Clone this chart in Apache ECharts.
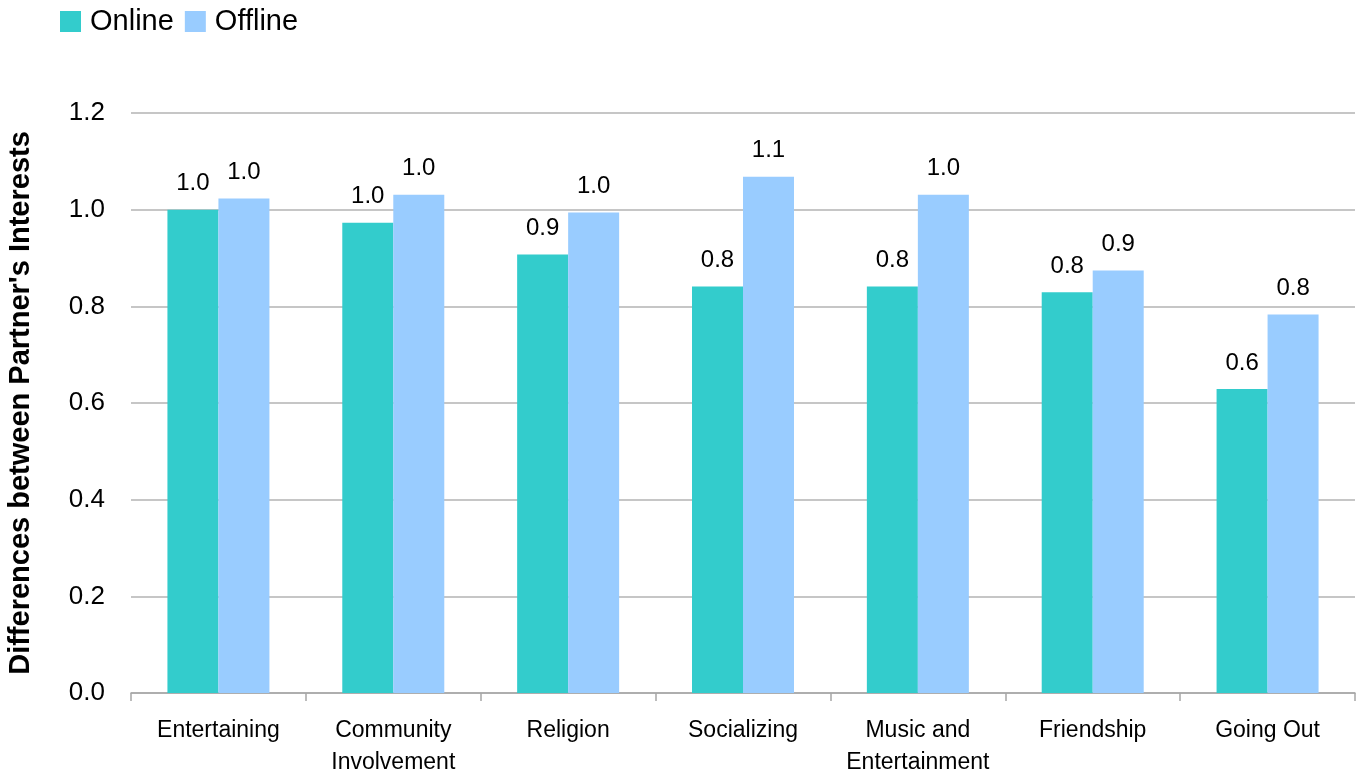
<!DOCTYPE html>
<html><head><meta charset="utf-8">
<script src="https://cdn.jsdelivr.net/npm/echarts@6/dist/echarts.min.js"></script>
<style>html,body{margin:0;padding:0;background:#fff}#c{width:1357px;height:772px}</style>
</head><body><div id="c"></div>
<script>
const categories = ["Entertaining", "Community\nInvolvement", "Religion", "Socializing", "Music and\nEntertainment", "Friendship", "Going Out"];
const onlineValues = [1.00, 0.973, 0.907, 0.841, 0.841, 0.829, 0.629];
const offlineValues = [1.023, 1.031, 0.994, 1.068, 1.031, 0.874, 0.783];
const yTicks = [0, 0.2, 0.4, 0.6, 0.8, 1.0, 1.2];

const font = "Liberation Sans, Arial, sans-serif";
const chart = echarts.init(document.getElementById('c'));
const labelCfg = {show: true, position: 'top', distance: 14, color: '#000', fontSize: 24, fontFamily: font,
  formatter: p => p.value.toFixed(1)};
chart.setOption({
  animation: false,
  legend: {left: 55, top: 2, itemWidth: 21, itemHeight: 21, itemGap: 11, icon: 'rect',
    textStyle: {fontSize: 29, fontFamily: font, color: '#000', padding: [0,0,0,4]},
    data: ['Online', 'Offline']},
  grid: {left: 131, right: 2, top: 113, bottom: 79, outerBoundsMode: 'none', containLabel: false},
  xAxis: {type: 'category', data: categories,
    axisLine: {lineStyle: {color: '#a6a6a6', width: 1.5}},
    axisTick: {show: true, length: 8, lineStyle: {color: '#a6a6a6', width: 1.5}},
    axisLabel: {fontSize: 23, fontFamily: font, color: '#000', margin: 22, lineHeight: 32, interval: 0}},
  yAxis: {type: 'value', min: 0, max: 1.2, interval: 0.2,
    name: "Differences between Partner's Interests", nameLocation: 'middle', nameGap: 96,
    nameTextStyle: {fontSize: 29, fontWeight: 'bold', fontFamily: font, color: '#000'},
    axisLine: {show: false}, axisTick: {show: false},
    splitLine: {lineStyle: {color: '#b3b3b3', width: 1.5}},
    axisLabel: {fontSize: 26, fontFamily: font, color: '#000', margin: 26,
      formatter: v => yTicks.includes(+v.toFixed(1)) ? v.toFixed(1) : ''}},
  series: [
    {name: 'Online', type: 'bar', data: onlineValues, barWidth: 51, barGap: '0%',
     itemStyle: {color: '#33cccc'}, label: labelCfg},
    {name: 'Offline', type: 'bar', data: offlineValues, barWidth: 51,
     itemStyle: {color: '#99ccff'}, label: labelCfg}
  ]
});
</script></body></html>
